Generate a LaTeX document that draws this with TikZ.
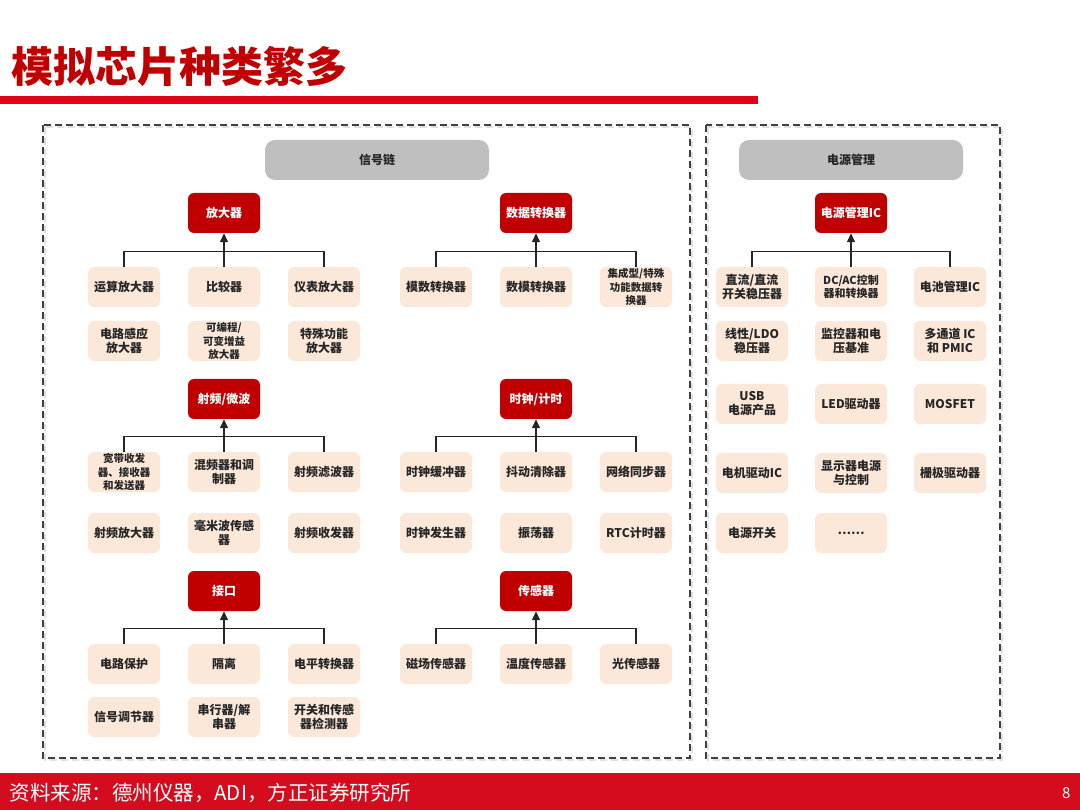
\documentclass[tikz,border=0pt]{standalone}
\usepackage{fontspec}
\setmainfont{Noto Sans CJK SC}
\usetikzlibrary{arrows.meta}
\definecolor{chipred}{RGB}{192,0,0}
\definecolor{rulered}{RGB}{226,0,20}
\definecolor{peach}{RGB}{252,232,216}
\definecolor{bandgrey}{RGB}{191,191,191}
\definecolor{footred}{RGB}{212,12,30}
\def\kid{\node[kid]}
\def\hub{\node[hub]}
\def\fan#1#2#3#4{\draw[link] (#2.north) -- ++(0,-15) -| (#4.north);
  \draw[link,-{Triangle[length=9pt,width=8pt]}] (#3.north) -- (#1.south);}

\begin{document}
\begin{tikzpicture}[x=1pt,y=-1pt,
    kid/.style={fill=peach,rounded corners=6pt,minimum width=72pt,minimum height=40pt,
      inner sep=1pt,align=center,text=black!85,font=\bfseries\fontsize{12}{14}\selectfont},
    tiny/.style={font=\bfseries\fontsize{10.5}{13.5}\selectfont},
    hub/.style={fill=chipred,text=white,rounded corners=6pt,minimum width=72pt,
      minimum height=40pt,font=\bfseries\fontsize{12}{14}\selectfont},
    band/.style={fill=bandgrey,rounded corners=10pt,minimum width=224pt,minimum height=40pt,
      text=black!85,font=\bfseries\fontsize{12}{14}\selectfont},
    panel/.style={draw=black!75,line width=1.3pt,dash pattern=on 7pt off 4pt},
    link/.style={draw=black!85,line width=1.3pt}]
\useasboundingbox (0,0) rectangle (1080,810);

\node[anchor=west,text=chipred,font=\bfseries\fontsize{42}{46}\selectfont] (title) at (8,67) {模拟芯片种类繁多};
\fill[rulered] (0,96) rectangle (758,104);

\draw[panel,draw=black!12] (45,127) rectangle (692,760);
\draw[panel,draw=black!12] (708,127) rectangle (1002,760);
\draw[panel] (43,125) rectangle (690,758);
\draw[panel] (706,125) rectangle (1000,758);

\node[band] (sig) at (377,160) {信号链};
\node[band] (pwr) at (851,160) {电源管理};

\hub (amp) at (224,213) {放大器};
\kid (a1) at (124,287) {运算放大器};
\kid (a2) at (224,287) {比较器};
\kid (a3) at (324,287) {仪表放大器};
\kid (a4) at (124,341) {电路感应\\放大器};
\kid[tiny] (a5) at (224,341) {可编程/\\可变增益\\放大器};
\kid (a6) at (324,341) {特殊功能\\放大器};
\fan{amp}{a1}{a2}{a3}

\hub (adc) at (536,213) {数据转换器};
\kid (d1) at (436,287) {模数转换器};
\kid (d2) at (536,287) {数模转换器};
\kid[tiny] (d3) at (636,287) {集成型/特殊\\功能数据转\\换器};
\fan{adc}{d1}{d2}{d3}

\hub (rf) at (224,399) {射频/微波};
\kid[tiny] (r1) at (124,472) {宽带收发\\器、接收器\\和发送器};
\kid (r2) at (224,472) {混频器和调\\制器};
\kid (r3) at (324,472) {射频滤波器};
\kid (r4) at (124,533) {射频放大器};
\kid (r5) at (224,533) {毫米波传感\\器};
\kid (r6) at (324,533) {射频收发器};
\fan{rf}{r1}{r2}{r3}

\hub (clk) at (536,399) {时钟/计时};
\kid (k1) at (436,472) {时钟缓冲器};
\kid (k2) at (536,472) {抖动清除器};
\kid (k3) at (636,472) {网络同步器};
\kid (k4) at (436,533) {时钟发生器};
\kid (k5) at (536,533) {振荡器};
\kid (k6) at (636,533) {RTC计时器};
\fan{clk}{k1}{k2}{k3}

\hub (io) at (224,591) {接口};
\kid (i1) at (124,664) {电路保护};
\kid (i2) at (224,664) {隔离};
\kid (i3) at (324,664) {电平转换器};
\kid (i4) at (124,717) {信号调节器};
\kid (i5) at (224,717) {串行器/解\\串器};
\kid (i6) at (324,717) {开关和传感\\器检测器};
\fan{io}{i1}{i2}{i3}

\hub (sen) at (536,591) {传感器};
\kid (s1) at (436,664) {磁场传感器};
\kid (s2) at (536,664) {温度传感器};
\kid (s3) at (636,664) {光传感器};
\fan{sen}{s1}{s2}{s3}

\hub (pic) at (851,213) {电源管理IC};
\kid (p1) at (752,287) {直流/直流\\开关稳压器};
\kid[font=\bfseries\fontsize{11}{13}\selectfont] (p2) at (851,287) {DC/AC控制\\器和转换器};
\kid (p3) at (950,287) {电池管理IC};
\kid (p4) at (752,341) {线性/LDO\\稳压器};
\kid (p5) at (851,341) {监控器和电\\压基准};
\kid (p6) at (950,341) {多通道 IC\\和 PMIC};
\kid (p7) at (752,404) {USB\\电源产品};
\kid (p8) at (851,404) {LED驱动器};
\kid (p9) at (950,404) {MOSFET};
\kid (p10) at (752,473) {电机驱动IC};
\kid (p11) at (851,473) {显示器电源\\与控制};
\kid (p12) at (950,473) {栅极驱动器};
\kid (p13) at (752,533) {电源开关};
\kid (p14) at (851,533) {……};
\fan{pic}{p1}{p2}{p3}

\fill[footred] (0,773) rectangle (1080,810);
\node[anchor=west,text=white,font=\fontsize{20.5}{23}\selectfont] (src) at (6,793) {资料来源：德州仪器，ADI，方正证券研究所};
\node[anchor=east,text=white,font=\fontsize{15}{18}\selectfont] (page) at (1074,793) {8};
\end{tikzpicture}
\end{document}
